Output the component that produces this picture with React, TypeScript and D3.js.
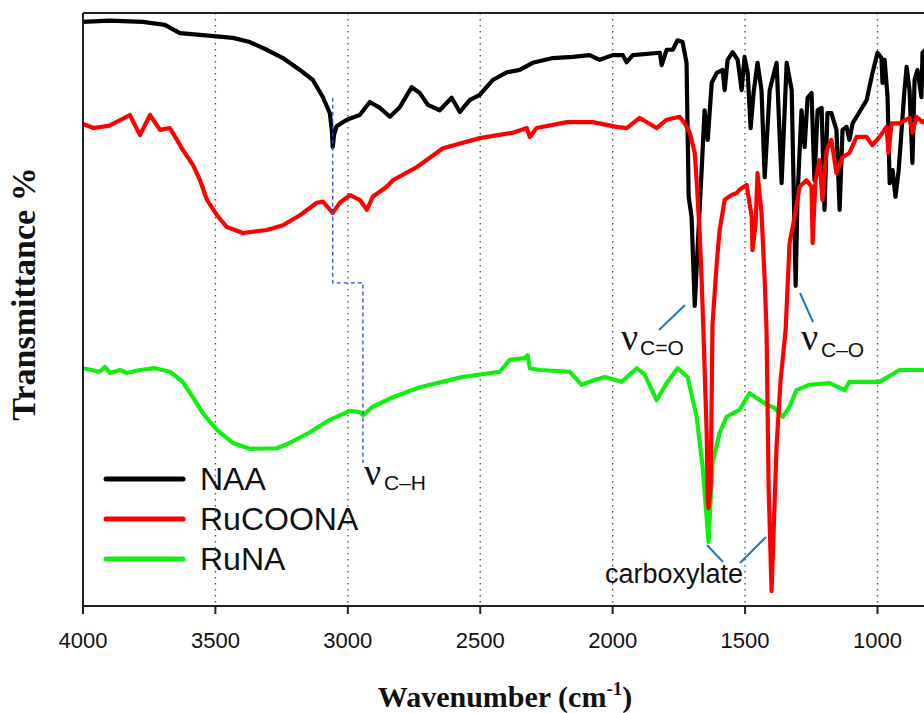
import React from "react";
import * as d3 from "d3";

// Wavenumber (cm-1) and transmittance (arbitrary %, offset traces)
const naaWave = [4000,3900,3774,3691,3634,3558,3434,3370,3306,3245,3181,3132,3094,3068,3060,3057,3052,3042,3004,2955,2917,2879,2841,2804,2759,2728,2698,2653,2608,2577,2540,2502,2453,2400,2351,2302,2226,2151,2087,2049,2000,1962,1947,1924,1822,1815,1796,1773,1755,1736,1721,1713,1702,1690,1679,1664,1653,1641,1626,1607,1585,1577,1566,1547,1528,1513,1502,1490,1479,1468,1453,1438,1426,1407,1381,1362,1343,1324,1309,1302,1287,1275,1264,1249,1238,1226,1211,1200,1189,1174,1155,1143,1132,1117,1106,1094,1079,1041,1019,1000,985,981,973,962,954,943,932,920,909,898,890,879,868,860,849,834,830,815];
const naaT = [98.5,98.7,98.5,98.0,96.6,96.3,95.8,95.1,93.8,92.4,90.4,88.7,85.8,83.1,80.0,77.4,79.5,80.9,82.0,82.8,85.0,84.0,82.5,84.1,87.5,86.5,84.5,83.6,85.7,83.3,85.3,86.2,88.7,90.0,90.4,91.6,92.4,92.6,92.9,92.1,92.9,92.9,91.7,92.9,93.3,91.2,93.8,93.8,95.4,95.1,91.6,69.0,65.6,50.6,60.5,73.5,83.6,78.6,88.2,89.9,90.4,87.0,92.1,93.4,92.1,87.0,92.6,89.9,80.6,86.5,91.6,87.0,72.3,87.0,91.6,71.3,91.6,87.0,54.0,69.0,83.6,77.4,85.7,86.5,71.8,83.6,84.0,66.8,83.1,83.1,80.3,66.8,80.3,80.8,78.6,81.4,82.5,85.3,89.9,93.3,92.4,88.2,92.1,85.8,71.3,73.5,69.0,73.5,80.3,87.0,90.9,87.0,74.7,88.7,90.4,85.8,93.3,94.0];

const rucWave = [4000,3960,3900,3823,3785,3747,3709,3672,3645,3623,3585,3558,3532,3494,3457,3396,3306,3245,3181,3117,3094,3057,3030,2992,2955,2928,2906,2853,2830,2740,2641,2502,2377,2324,2313,2287,2173,2075,1985,1947,1898,1834,1796,1747,1728,1709,1690,1683,1672,1664,1657,1645,1641,1638,1630,1623,1607,1596,1577,1551,1532,1521,1494,1475,1472,1460,1453,1438,1426,1419,1411,1400,1389,1381,1366,1347,1332,1313,1294,1268,1249,1245,1234,1219,1208,1192,1174,1155,1132,1106,1079,1041,1019,992,966,958,947,917,879,868,853,830,815];
const rucT = [81.3,80.6,81.0,82.8,79.4,82.8,80.3,80.6,78.6,76.9,74.4,71.8,68.5,65.9,63.9,62.9,63.4,64.2,65.9,68.0,68.2,66.3,68.0,69.3,68.5,66.8,69.0,70.7,71.8,74.0,77.2,78.9,79.8,80.6,79.1,80.6,81.6,81.6,80.8,80.6,82.3,80.6,82.0,82.5,81.4,79.8,76.4,71.8,63.4,55.0,46.0,29.2,17.9,16.5,20.0,47.5,57.8,63.4,68.5,69.3,69.6,70.2,71.0,65.6,60.0,64.6,73.0,66.3,55.0,46.5,20.0,2.5,16.7,27.0,38.0,46.5,61.2,65.6,70.7,71.8,70.7,61.2,71.8,75.2,68.5,76.9,78.6,73.0,75.7,76.4,79.1,79.1,77.7,79.1,80.8,76.4,81.4,81.4,82.3,79.8,82.5,81.6,82.0];

const runaWave = [4000,3936,3917,3898,3860,3834,3785,3728,3672,3623,3585,3547,3494,3434,3370,3268,3219,3143,3068,2992,2955,2943,2906,2830,2728,2570,2426,2389,2332,2321,2313,2275,2162,2117,2068,2030,1966,1909,1879,1834,1796,1755,1717,1683,1660,1638,1623,1596,1570,1521,1483,1457,1415,1389,1358,1332,1306,1257,1181,1124,1106,1030,992,917,826,815];
const runaT = [40.1,39.5,40.3,39.3,39.8,39.3,39.8,40.1,39.5,37.8,35.2,32.5,29.7,27.5,26.5,26.6,27.5,29.3,31.4,32.9,32.7,32.2,33.6,35.2,36.9,38.6,39.5,41.5,41.8,42.3,40.1,39.8,39.5,37.3,38.1,38.6,37.8,40.1,39.0,34.7,37.6,40.1,38.6,31.9,23.4,10.8,24.1,29.2,31.9,33.1,35.9,35.1,33.9,33.4,31.9,33.6,36.4,37.3,37.6,36.4,37.8,37.8,37.8,39.8,39.8,39.8];

const xTicks = [4000, 3500, 3000, 2500, 2000, 1500, 1000];
const gridTicks = [3500, 3000, 2500, 2000, 1500, 1000];
const seriesNames = ["NAA", "RuCOONA", "RuNA"];
const seriesColors = ["#000000", "#ff0000", "#11ee11"];

export default function App() {
  const W = 924, H = 713;
  const left = 83, top = 13, bottom = 606;
  const x = d3.scaleLinear().domain([4000, 400]).range([left, left + 3600 * 0.26483]);
  const y = d3.scaleLinear().domain([0, 100]).range([bottom, top]);
  const line = d3.line<[number, number]>().x(d => x(d[0])).y(d => y(d[1]));
  const zip = (a: number[], b: number[]) => a.map((w, i) => [w, b[i]] as [number, number]);
  const naa = zip(naaWave, naaT);
  const ruc = zip(rucWave, rucT);
  const runa = zip(runaWave, runaT);
  const sans = "Arial, 'Liberation Sans', Helvetica, sans-serif";
  const serif = "'Times New Roman', 'Liberation Serif', serif";
  const lead = "#1f78c0";

  const xCH = x(3057), xCH2 = x(2943);
  return (
    <svg width={W} height={H} style={{ position: "absolute", left: 0, top: 0, background: "#fff" }}>
      <defs>
        <clipPath id="plot">
          <rect x={left} y={top} width={W - left} height={bottom - top} />
        </clipPath>
      </defs>
      {gridTicks.map(t => (
        <line key={t} x1={x(t)} x2={x(t)} y1={top} y2={bottom} stroke="#555" strokeWidth={1.4} strokeDasharray="1.4,4.6" />
      ))}
      <g clipPath="url(#plot)" fill="none" strokeLinejoin="round" strokeLinecap="round">
        <path d={line(runa) || ""} stroke={seriesColors[2]} strokeWidth={4.2} />
        <path d={line(naa) || ""} stroke={seriesColors[0]} strokeWidth={4.2} />
        <path d={line(ruc) || ""} stroke={seriesColors[1]} strokeWidth={4.2} />
      </g>
      <path d={`M${xCH},${y(85.7)} V${y(54.5)} H${xCH2} V${y(24.1)}`} fill="none" stroke="#2a4de6" strokeWidth={1.3} strokeDasharray="4,3" />
      <line x1={left} x2={W} y1={top} y2={top} stroke="#222" strokeWidth={2} />
      <line x1={left} x2={W} y1={bottom} y2={bottom} stroke="#222" strokeWidth={2} />
      <line x1={left} x2={left} y1={top} y2={bottom + 8} stroke="#222" strokeWidth={2} />
      {xTicks.map(t => (
        <g key={t}>
          <line x1={x(t)} x2={x(t)} y1={bottom} y2={bottom + 8} stroke="#222" strokeWidth={2} />
          <text x={x(t)} y={648} textAnchor="middle" fontFamily={sans} fontSize={22} fill="#111">{t}</text>
        </g>
      ))}
      <text x={505} y={707} textAnchor="middle" fontFamily={serif} fontWeight="bold" fontSize={30} fill="#111">
        Wavenumber (cm<tspan dy={-12} fontSize={19}>-1</tspan><tspan dy={12}>)</tspan>
      </text>
      <text transform="translate(35,294) rotate(-90)" textAnchor="middle" fontFamily={serif} fontWeight="bold" fontSize={34} fill="#111">
        Transmittance %
      </text>
      {seriesNames.map((n, i) => (
        <g key={n}>
          <line x1={106} x2={183} y1={479 + i * 40} y2={479 + i * 40} stroke={seriesColors[i]} strokeWidth={5} strokeLinecap="round" />
          <text x={200} y={490 + i * 40} fontFamily={sans} fontSize={32} fill="#111">{n}</text>
        </g>
      ))}
      <text x={364} y={485} fontFamily={serif} fontSize={38} fill="#111">ν</text>
      <text x={384} y={490} fontFamily={sans} fontSize={21} fill="#111">C–H</text>

      <line x1={659} y1={330} x2={685} y2={305} stroke={lead} strokeWidth={2} />
      <text x={621} y={350} fontFamily={serif} fontSize={38} fill="#111">ν</text>
      <text x={640} y={355} fontFamily={sans} fontSize={21} fill="#111">C=O</text>

      <line x1={800} y1={293} x2={813} y2={322} stroke={lead} strokeWidth={2} />
      <text x={801} y={350} fontFamily={serif} fontSize={38} fill="#111">ν</text>
      <text x={821} y={357} fontFamily={sans} fontSize={21} fill="#111">C–O</text>

      <line x1={707} y1={545} x2={723} y2={562} stroke={lead} strokeWidth={2} />
      <line x1={740} y1={563} x2={766} y2={537} stroke={lead} strokeWidth={2} />
      <text x={674} y={583} textAnchor="middle" fontFamily={sans} fontSize={27} fill="#111">carboxylate</text>
    </svg>
  );
}
